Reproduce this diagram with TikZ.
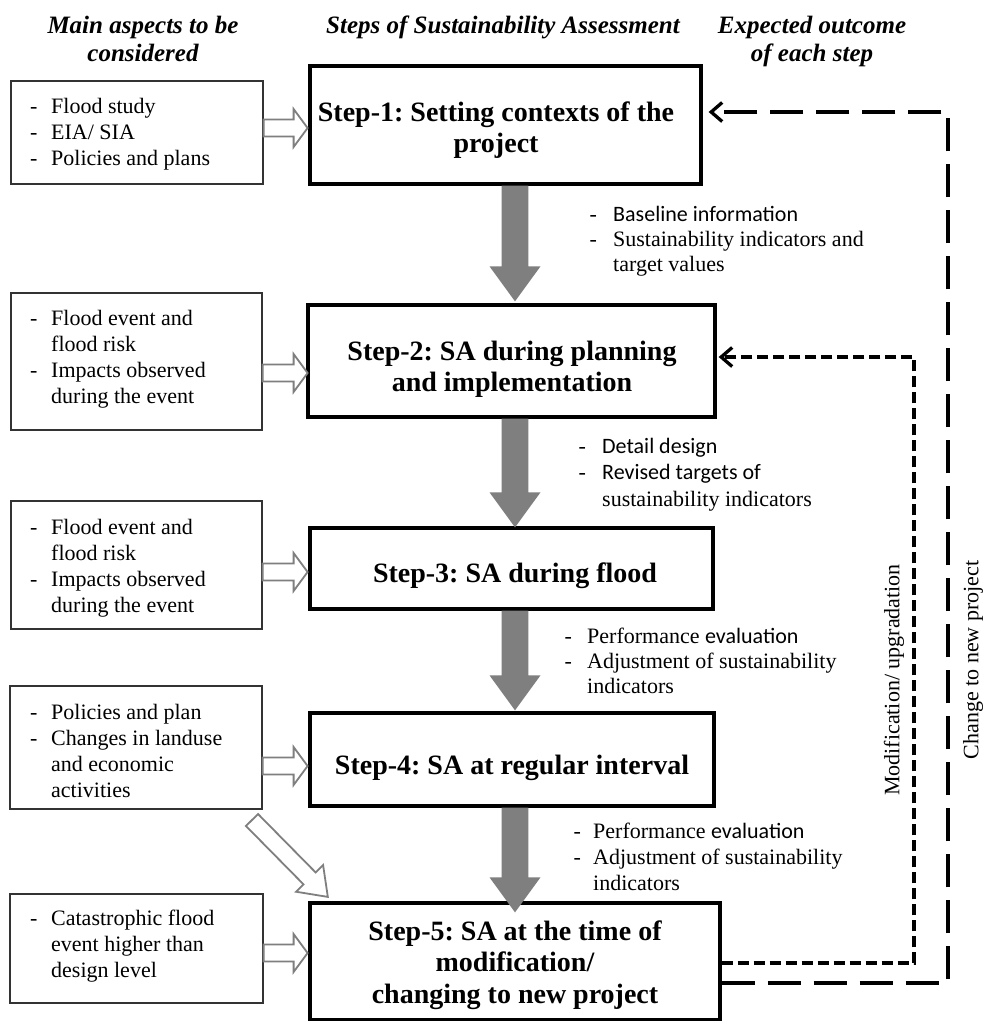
\documentclass[tikz,border=0pt]{standalone}
\usepackage{fontspec}
\setmainfont{Liberation Serif}
\newfontfamily\calfont{Carlito}
\usetikzlibrary{arrows.meta,calc}
\definecolor{arrgray}{HTML}{7F7F7F}
\newcommand{\ditem}[2]{\makebox[#1][l]{-}#2}
\newcommand{\dcont}[2]{\hspace*{#1}#2}
\newcommand{\bigarrow}[2]{%
  \fill[arrgray] ($(#1)+(-13.3,0)$) -- ($(#2)+(-13.3,-35)$) -- ($(#2)+(-25.5,-35)$) -- (#2)
    -- ($(#2)+(25.5,-35)$) -- ($(#2)+(13.3,-35)$) -- ($(#1)+(13.3,0)$) -- cycle;}
\tikzset{pics/harrow/.style 2 args={code={%
  \draw[hstyle] (0,-8.5) -- (#1-#2,-8.5) -- (#1-#2,-19) -- (#1,0) -- (#1-#2,19) -- (#1-#2,8.5) -- (0,8.5) -- cycle;}}}
\frenchspacing
\begin{document}
\frenchspacing
\begin{tikzpicture}[x=1pt,y=-1pt,
  stepbox/.style={draw=black, line width=3.3pt, inner sep=0pt},
  sidebox/.style={draw=black!80, line width=1.2pt, inner sep=0pt},
  steptext/.style={inner sep=0pt, anchor=base, font=\fontsize{28}{31}\selectfont\bfseries},
  headtext/.style={inner sep=0pt, anchor=base, font=\fontsize{25}{28.3}\selectfont\bfseries\itshape},
  sidetext/.style={inner sep=0pt, anchor=base west, font=\fontsize{22}{26.3}\selectfont},
  outtext/.style={inner sep=0pt, anchor=base west, font=\fontsize{22}{#1}\selectfont},
  rottext/.style={inner sep=0pt, rotate=90, font=\fontsize{22}{26}\selectfont},
  hstyle/.style={draw=arrgray, fill=white, line width=1.8pt, line join=miter},
  longdash/.style={line width=3.3pt, dash pattern=on 33pt off 13pt, -{Straight Barb[length=11pt,width=19pt]}, shorten >=6pt},
  shortdash/.style={line width=3.3pt, dash pattern=on 11pt off 5pt, -{Straight Barb[length=11pt,width=19pt]}, shorten >=2pt},
]
\path[fill=white, use as bounding box] (0,0) rectangle (983,1021);

% headers
\node[headtext] (h1) at (143,33) {\begin{tabular}[t]{@{}c@{}}Main aspects to be\\ considered\end{tabular}};
\node[headtext] (h2) at (503,33) {Steps of Sustainability Assessment};
\node[headtext] (h3) at (812,33) {\begin{tabular}[t]{@{}c@{}}Expected outcome\\ of each step\end{tabular}};

% step boxes
\node[stepbox, minimum width=391pt, minimum height=118pt] (s1) at (505.5,125) {};
\node[stepbox, minimum width=407pt, minimum height=112pt] (s2) at (511.5,361) {};
\node[stepbox, minimum width=403pt, minimum height=81pt] (s3) at (511.5,568.5) {};
\node[stepbox, minimum width=404pt, minimum height=93pt] (s4) at (512,759.5) {};
\node[stepbox, minimum width=410pt, minimum height=117pt] (s5) at (515,961.5) {};

\node[steptext] (t1) at (496,121) {\begin{tabular}[t]{@{}c@{}}Step-1: Setting contexts of the\\ project\end{tabular}};
\node[steptext] (t2) at (512,360) {\begin{tabular}[t]{@{}c@{}}Step-2: SA during planning\\ and implementation\end{tabular}};
\node[steptext] (t3) at (515,582) {Step-3: SA during flood};
\node[steptext] (t4) at (512,774) {Step-4: SA at regular interval};
\node[steptext, font=\fontsize{28}{31.5}\selectfont\bfseries] (t5) at (515,940) {\begin{tabular}[t]{@{}c@{}}Step-5: SA at the time of\\ modification/\\ changing to new project\end{tabular}};

% side boxes
\node[sidebox, minimum width=252pt, minimum height=103pt] (b1) at (137,132.5) {};
\node[sidebox, minimum width=251pt, minimum height=137pt] (b2) at (136.5,361.5) {};
\node[sidebox, minimum width=251pt, minimum height=128pt] (b3) at (136.5,565) {};
\node[sidebox, minimum width=252pt, minimum height=123pt] (b4) at (136,747.5) {};
\node[sidebox, minimum width=253pt, minimum height=109pt] (b5) at (136.5,948.5) {};

\node[sidetext] (l1) at (30,113) {\begin{tabular}[t]{@{}l@{}}\ditem{21pt}{Flood study}\\ \ditem{21pt}{EIA/ SIA}\\ \ditem{21pt}{Policies and plans}\end{tabular}};
\node[sidetext] (l2) at (30,325) {\begin{tabular}[t]{@{}l@{}}\ditem{21pt}{Flood event and}\\ \dcont{21pt}{flood risk}\\ \ditem{21pt}{Impacts observed}\\ \dcont{21pt}{during the event}\end{tabular}};
\node[sidetext] (l3) at (30,534) {\begin{tabular}[t]{@{}l@{}}\ditem{21pt}{Flood event and}\\ \dcont{21pt}{flood risk}\\ \ditem{21pt}{Impacts observed}\\ \dcont{21pt}{during the event}\end{tabular}};
\node[sidetext] (l4) at (30,719) {\begin{tabular}[t]{@{}l@{}}\ditem{21pt}{Policies and plan}\\ \ditem{21pt}{Changes in landuse}\\ \dcont{21pt}{and economic}\\ \dcont{21pt}{activities}\end{tabular}};
\node[sidetext] (l5) at (30,925) {\begin{tabular}[t]{@{}l@{}}\ditem{21pt}{Catastrophic flood}\\ \dcont{21pt}{event higher than}\\ \dcont{21pt}{design level}\end{tabular}};

% outcome texts
\node[outtext=25.3] (o1) at (589.5,221) {\begin{tabular}[t]{@{}l@{}}\ditem{23.5pt}{\calfont Baseline information}\\ \ditem{23.5pt}{Sustainability indicators and}\\ \dcont{23.5pt}{target values}\end{tabular}};
\node[outtext=26.5] (o2) at (578.5,453) {\begin{tabular}[t]{@{}l@{}}\ditem{23.5pt}{\calfont Detail design}\\ \ditem{23.5pt}{\calfont Revised targets of}\\ \dcont{23.5pt}{sustainability indicators}\end{tabular}};
\node[outtext=25] (o3) at (564.5,643) {\begin{tabular}[t]{@{}l@{}}\ditem{22.5pt}{Performance {\calfont evaluation}}\\ \ditem{22.5pt}{Adjustment of sustainability}\\ \dcont{22.5pt}{indicators}\end{tabular}};
\node[outtext=26] (o4) at (573.5,838) {\begin{tabular}[t]{@{}l@{}}\ditem{19.5pt}{Performance {\calfont evaluation}}\\ \ditem{19.5pt}{Adjustment of sustainability}\\ \dcont{19.5pt}{indicators}\end{tabular}};

% rotated labels
\node[rottext] (mod) at (894,680) {Modification/ upgradation};
\node[rottext] (chg) at (973,660) {Change to new project};

% gray step arrows
\coordinate (ax) at (515,0);
\coordinate (a1s) at (s1.south -| ax);
\coordinate (a1e) at ($(s2.north -| ax)+(0,-2)$);
\coordinate (a2s) at (s2.south -| ax);
\coordinate (a2e) at ($(s3.north -| ax)+(0,1)$);
\coordinate (a3s) at (s3.south -| ax);
\coordinate (a3e) at ($(s4.north -| ax)+(0,-1)$);
\coordinate (a4s) at (s4.south -| ax);
\coordinate (a4e) at ($(s5.north -| ax)+(0,11)$);
\bigarrow{a1s}{a1e}
\bigarrow{a2s}{a2e}
\bigarrow{a3s}{a3e}
\bigarrow{a4s}{a4e}

% hollow input arrows
\pic at (b1.east |- 0,128) {harrow={44}{14}};
\pic at (b2.east |- 0,373) {harrow={45}{14}};
\pic at (b3.east |- 0,572) {harrow={45}{14}};
\pic at (b4.east |- 0,766) {harrow={45}{14}};
\pic at (b5.east |- 0,953) {harrow={44}{14}};
\pic[rotate=-45.4] at (252,820) {harrow={108}{26}};

% feedback dashed arrows
\draw[longdash] (s5.east |- 0,983) -| (948,112) -- (s1.east |- 0,112);
\draw[shortdash] (s5.east |- 0,963) -| (914,357) -- (s2.east |- 0,357);
\end{tikzpicture}
\end{document}
